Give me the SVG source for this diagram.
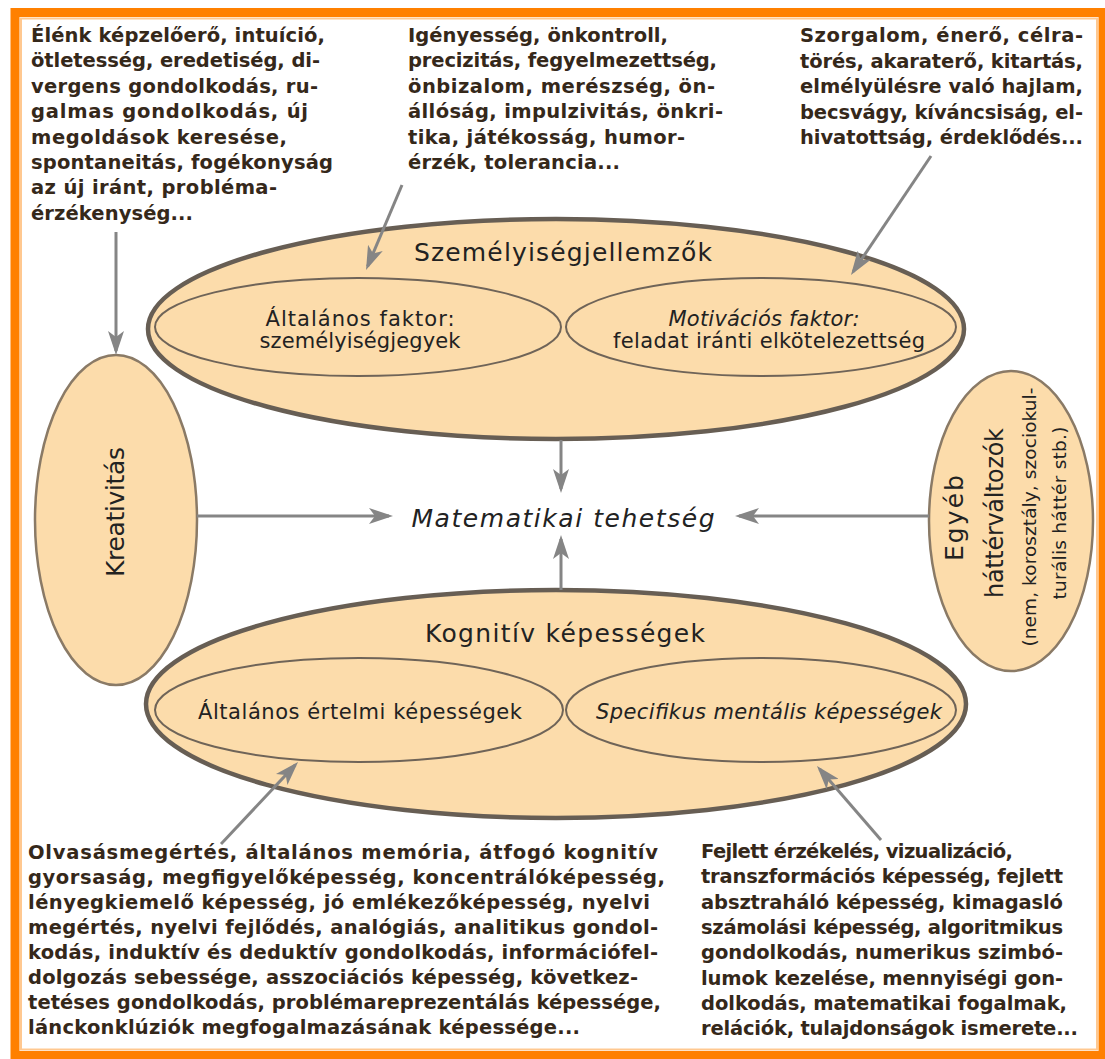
<svg xmlns="http://www.w3.org/2000/svg" width="1105" height="1059" viewBox="0 0 1105 1059">
  <defs>
    <style>
      .para { font-family: "DejaVu Sans", "Liberation Sans", sans-serif; font-weight: bold; font-size: 19.5px; fill: #35281a; }
      .lbl { font-family: "DejaVu Sans", "Liberation Sans", sans-serif; fill: #222; }
      .big { font-size: 25px; }
      .mid { font-size: 21px; }
      .it { font-style: italic; }
      .outer { fill: #fcdcab; stroke: #675e54; stroke-width: 4.5; }
      .inner { fill: #fcdcab; stroke: #6f6458; stroke-width: 2; }
      .side { fill: #fcdcab; stroke: #8a7a66; stroke-width: 2.5; }
      .arrow { stroke: #858585; stroke-width: 3; fill: none; marker-end: url(#head); }
    </style>
    <marker id="head" viewBox="0 0 24 16" refX="20" refY="8" markerWidth="24" markerHeight="16" markerUnits="userSpaceOnUse" orient="auto">
      <path d="M0,0 L24,8 L0,16 L6,8 Z" fill="#858585"/>
    </marker>
  </defs>

  <!-- page frame -->
  <rect x="0" y="0" width="1105" height="1059" fill="#ffffff"/>
  <rect x="15" y="12.5" width="1088" height="1043" fill="none" stroke="#ff8000" stroke-width="9"/>
  <rect x="21" y="18.5" width="1076" height="1031" fill="none" stroke="#ffc890" stroke-width="2"/>

  <!-- personality traits -->
  <g id="szemelyiseg">
    <ellipse class="outer" cx="556" cy="329" rx="408" ry="110"/>
    <text class="lbl big" x="563" y="261" text-anchor="middle" textLength="298" lengthAdjust="spacing">Személyiségjellemzők</text>
  </g>
  <g id="altalanos-faktor">
    <ellipse class="inner" cx="358" cy="327" rx="203" ry="49"/>
    <text class="lbl mid" x="360" y="326" text-anchor="middle" textLength="189" lengthAdjust="spacing">Általános faktor:</text>
    <text class="lbl mid" x="360" y="348" text-anchor="middle" textLength="201" lengthAdjust="spacing">személyiségjegyek</text>
  </g>
  <g id="motivacios-faktor">
    <ellipse class="inner" cx="761" cy="327" rx="195" ry="49"/>
    <text class="lbl mid it" x="764" y="326" text-anchor="middle" textLength="191" lengthAdjust="spacing">Motivációs faktor:</text>
    <text class="lbl mid" x="769" y="348" text-anchor="middle" textLength="312" lengthAdjust="spacing">feladat iránti elkötelezettség</text>
  </g>

  <!-- cognitive abilities -->
  <g id="kognitiv">
    <ellipse class="outer" cx="556" cy="704" rx="410" ry="114"/>
    <text class="lbl big" x="565" y="642" text-anchor="middle" textLength="280" lengthAdjust="spacing">Kognitív képességek</text>
  </g>
  <g id="altalanos-ertelmi">
    <ellipse class="inner" cx="359" cy="710" rx="204" ry="52"/>
    <text class="lbl mid" x="360" y="719" text-anchor="middle" textLength="324" lengthAdjust="spacing">Általános értelmi képességek</text>
  </g>
  <g id="specifikus-mentalis">
    <ellipse class="inner" cx="761" cy="710" rx="195" ry="52"/>
    <text class="lbl mid it" x="769" y="719" text-anchor="middle" textLength="346" lengthAdjust="spacing">Specifikus mentális képességek</text>
  </g>

  <!-- creativity -->
  <g id="kreativitas">
    <ellipse class="side" cx="116" cy="520" rx="81" ry="165"/>
    <text class="lbl" font-size="25" transform="translate(124,512) rotate(-90)" text-anchor="middle" textLength="130" lengthAdjust="spacing">Kreativitás</text>
  </g>

  <!-- background variables -->
  <g id="egyeb">
    <ellipse class="side" cx="1011" cy="521" rx="82" ry="150"/>
    <text class="lbl" font-size="25" transform="translate(963,518) rotate(-90)" text-anchor="middle" textLength="86" lengthAdjust="spacing">Egyéb</text>
    <text class="lbl" font-size="24" transform="translate(1003,513) rotate(-90)" text-anchor="middle" textLength="170" lengthAdjust="spacing">háttérváltozók</text>
    <text class="lbl" font-size="18.5" transform="translate(1036,517) rotate(-90)" text-anchor="middle" textLength="259" lengthAdjust="spacing">(nem, korosztály, szociokul-</text>
    <text class="lbl" font-size="18.5" transform="translate(1066,513) rotate(-90)" text-anchor="middle" textLength="173" lengthAdjust="spacing">turális háttér stb.)</text>
  </g>

  <!-- central outcome -->
  <g id="matematikai-tehetseg">
    <text class="lbl big it" x="563" y="527" text-anchor="middle" textLength="303" lengthAdjust="spacing">Matematikai tehetség</text>
  </g>

  <!-- descriptive lists -->
  <g id="kreativitas-lista">
    <text class="para" x="31" y="42" textLength="294" lengthAdjust="spacing">Élénk képzelőerő, intuíció,</text>
    <text class="para" x="31" y="67.4" textLength="289" lengthAdjust="spacing">ötletesség, eredetiség, di-</text>
    <text class="para" x="31" y="92.8" textLength="287" lengthAdjust="spacing">vergens gondolkodás, ru-</text>
    <text class="para" x="31" y="118.2" textLength="277" lengthAdjust="spacing">galmas gondolkodás, új</text>
    <text class="para" x="31" y="143.6" textLength="256" lengthAdjust="spacing">megoldások keresése,</text>
    <text class="para" x="31" y="169" textLength="302" lengthAdjust="spacing">spontaneitás, fogékonyság</text>
    <text class="para" x="31" y="194.4" textLength="246" lengthAdjust="spacing">az új iránt, probléma-</text>
    <text class="para" x="31" y="219.8" textLength="162" lengthAdjust="spacing">érzékenység...</text>
  </g>
  <g id="szemelyiseg-lista">
    <text class="para" x="408" y="42" textLength="260" lengthAdjust="spacing">Igényesség, önkontroll,</text>
    <text class="para" x="408" y="67.4" textLength="309" lengthAdjust="spacing">precizitás, fegyelmezettség,</text>
    <text class="para" x="408" y="92.8" textLength="307" lengthAdjust="spacing">önbizalom, merészség, ön-</text>
    <text class="para" x="408" y="118.2" textLength="315" lengthAdjust="spacing">állóság, impulzivitás, önkri-</text>
    <text class="para" x="408" y="143.6" textLength="277" lengthAdjust="spacing">tika, játékosság, humor-</text>
    <text class="para" x="408" y="169" textLength="212" lengthAdjust="spacing">érzék, tolerancia...</text>
  </g>
  <g id="motivacio-lista">
    <text class="para" x="800" y="42" textLength="283" lengthAdjust="spacing">Szorgalom, énerő, célra-</text>
    <text class="para" x="800" y="67.5" textLength="283" lengthAdjust="spacing">törés, akaraterő, kitartás,</text>
    <text class="para" x="800" y="93" textLength="283" lengthAdjust="spacing">elmélyülésre való hajlam,</text>
    <text class="para" x="800" y="118.5" textLength="283" lengthAdjust="spacing">becsvágy, kíváncsiság, el-</text>
    <text class="para" x="800" y="144" textLength="283" lengthAdjust="spacing">hivatottság, érdeklődés...</text>
  </g>
  <g id="ertelmi-lista">
    <text class="para" x="28" y="859" textLength="630" lengthAdjust="spacing">Olvasásmegértés, általános memória, átfogó kognitív</text>
    <text class="para" x="28" y="884" textLength="637" lengthAdjust="spacing">gyorsaság, megfigyelőképesség, koncentrálóképesség,</text>
    <text class="para" x="28" y="909" textLength="622" lengthAdjust="spacing">lényegkiemelő képesség, jó emlékezőképesség, nyelvi</text>
    <text class="para" x="28" y="934" textLength="630" lengthAdjust="spacing">megértés, nyelvi fejlődés, analógiás, analitikus gondol-</text>
    <text class="para" x="28" y="959" textLength="630" lengthAdjust="spacing">kodás, induktív és deduktív gondolkodás, információfel-</text>
    <text class="para" x="28" y="984" textLength="610" lengthAdjust="spacing">dolgozás sebessége, asszociációs képesség, következ-</text>
    <text class="para" x="28" y="1009" textLength="633" lengthAdjust="spacing">tetéses gondolkodás, problémareprezentálás képessége,</text>
    <text class="para" x="28" y="1034" textLength="552" lengthAdjust="spacing">lánckonklúziók megfogalmazásának képessége...</text>
  </g>
  <g id="mentalis-lista">
    <text class="para" x="701" y="858" textLength="312" lengthAdjust="spacing">Fejlett érzékelés, vizualizáció,</text>
    <text class="para" x="701" y="883.3" textLength="362" lengthAdjust="spacing">transzformációs képesség, fejlett</text>
    <text class="para" x="701" y="908.6" textLength="362" lengthAdjust="spacing">absztraháló képesség, kimagasló</text>
    <text class="para" x="701" y="933.9" textLength="362" lengthAdjust="spacing">számolási képesség, algoritmikus</text>
    <text class="para" x="701" y="959.2" textLength="362" lengthAdjust="spacing">gondolkodás, numerikus szimbó-</text>
    <text class="para" x="701" y="984.5" textLength="362" lengthAdjust="spacing">lumok kezelése, mennyiségi gon-</text>
    <text class="para" x="701" y="1009.8" textLength="366" lengthAdjust="spacing">dolkodás, matematikai fogalmak,</text>
    <text class="para" x="701" y="1035.1" textLength="377" lengthAdjust="spacing">relációk, tulajdonságok ismerete...</text>
  </g>

  <!-- connectors -->
  <g id="connectors">
    <line class="arrow" x1="116" y1="232" x2="116" y2="351"/>
    <line class="arrow" x1="402" y1="185" x2="367.6" y2="266.3"/>
    <line class="arrow" x1="931" y1="156" x2="853.2" y2="271.7"/>
    <line class="arrow" x1="561" y1="440" x2="561" y2="489"/>
    <line class="arrow" x1="561" y1="590" x2="561" y2="539"/>
    <line class="arrow" x1="197" y1="516" x2="389" y2="516"/>
    <line class="arrow" x1="929" y1="516" x2="739" y2="516" stroke-width="5"/>
    <line class="arrow" x1="221" y1="844" x2="295.3" y2="764.9"/>
    <line class="arrow" x1="881" y1="840" x2="819.6" y2="769"/>
  </g>
</svg>
